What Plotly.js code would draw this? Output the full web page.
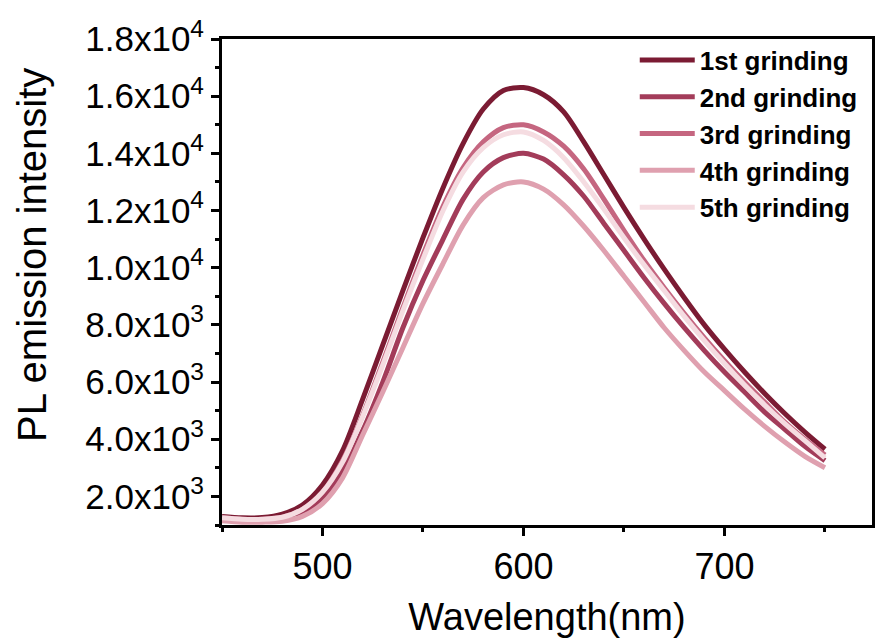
<!DOCTYPE html>
<html>
<head>
<meta charset="utf-8">
<script src="https://cdn.plot.ly/plotly-3.0.1.min.js"></script>
<style>html,body{margin:0;padding:0;background:#fff;}#chart{width:877px;height:639px;}</style>
</head>
<body>
<div id="chart"></div>
<script>
const wavelength = [450,460,470,480,490,500,510,520,530,540,550,560,570,580,590,600,610,620,630,640,650,660,670,680,690,700,710,720,730,740,750];

const grind1 = [1300,1250,1260,1380,1700,2400,3600,5400,7300,9200,11050,12800,14350,15550,16200,16300,16050,15450,14400,13250,12100,11000,9950,8950,8000,7150,6350,5600,4900,4250,3650];
const grind2 = [1200,1150,1150,1220,1450,1950,2900,4300,6000,7900,9550,11000,12400,13350,13850,14000,13800,13250,12500,11550,10600,9650,8750,7900,7100,6350,5650,4950,4350,3750,3250];
const grind3 = [1250,1200,1200,1270,1550,2150,3250,4850,6700,8600,10450,12150,13500,14400,14900,15000,14750,14250,13450,12400,11300,10250,9300,8400,7550,6750,6000,5300,4600,4000,3450];
const grind4 = [1150,1100,1100,1130,1300,1750,2650,4150,5650,7200,8750,10150,11500,12450,12900,13000,12750,12200,11450,10600,9700,8800,7900,7100,6350,5700,5050,4450,3900,3400,3000];
const grind5 = [1250,1200,1200,1270,1550,2150,3200,4800,6600,8500,10300,12000,13350,14200,14650,14750,14450,13850,13000,12050,11050,10100,9200,8300,7450,6650,5900,5200,4550,3950,3350];

const seriesNames = ['1st grinding','2nd grinding','3rd grinding','4th grinding','5th grinding'];
const seriesValues = [grind1, grind2, grind3, grind4, grind5];
const seriesColors = ['#7B1B33','#A33C5A','#C56680','#DFA0AF','#F5DCE1'];

const yTickVals = [2000,4000,6000,8000,10000,12000,14000,16000,18000];
const yTickText = ['2.0x10<sup>3</sup>','4.0x10<sup>3</sup>','6.0x10<sup>3</sup>','8.0x10<sup>3</sup>','1.0x10<sup>4</sup>','1.2x10<sup>4</sup>','1.4x10<sup>4</sup>','1.6x10<sup>4</sup>','1.8x10<sup>4</sup>'];
const xTickVals = [500,600,700];
const xTickText = ['500','600','700'];
const yTitle = 'PL emission intensity';
const xTitle = 'Wavelength(nm)';

const traces = seriesNames.map((n, i) => ({
  x: wavelength,
  y: seriesValues[i],
  name: n,
  type: 'scatter',
  mode: 'lines',
  line: {color: seriesColors[i], width: 5, shape: 'spline', smoothing: 0.8}
}));

const FONT = 'Liberation Sans, Arial, Helvetica, sans-serif';

const layout = {
  width: 877, height: 639,
  margin: {l: 222, r: 5, t: 39, b: 114},
  paper_bgcolor: '#fff', plot_bgcolor: '#fff',
  showlegend: true,
  legend: {
    x: 0.635, y: 1.005, xanchor: 'left', yanchor: 'top',
    bgcolor: 'rgba(0,0,0,0)', borderwidth: 0,
    font: {family: FONT, size: 26, color: '#000', weight: 'bold'},
    itemwidth: 55, tracegroupgap: 0
  },
  xaxis: {
    range: [450, 773.4],
    showgrid: false, zeroline: false,
    showline: true, linecolor: '#000', linewidth: 3, mirror: true,
    ticks: 'outside', ticklen: 8, tickwidth: 3, tickcolor: '#000',
    tickvals: xTickVals, ticktext: xTickText,
    tickfont: {family: FONT, size: 36, color: '#000'},
    minor: {tickvals: [450,550,650,750], ticks: 'outside', ticklen: 4, tickwidth: 3, tickcolor: '#000'},
    title: {text: xTitle, font: {family: FONT, size: 38, color: '#000'}, standoff: 18},
    automargin: false
  },
  yaxis: {
    range: [1000, 18000],
    showgrid: false, zeroline: false,
    showline: true, linecolor: '#000', linewidth: 3, mirror: true,
    ticks: 'outside', ticklen: 8, tickwidth: 3, tickcolor: '#000',
    tickvals: yTickVals, ticktext: yTickText,
    tickfont: {family: FONT, size: 35, color: '#000'},
    minor: {tickvals: [1000,3000,5000,7000,9000,11000,13000,15000,17000], ticks: 'outside', ticklen: 4, tickwidth: 3, tickcolor: '#000'},
    automargin: false
  },
  annotations: [{
    text: yTitle, textangle: -90,
    xref: 'paper', yref: 'paper', x: -0.292, y: 0.556,
    xanchor: 'center', yanchor: 'middle', showarrow: false,
    font: {family: FONT, size: 40, color: '#000'}
  }]
};

Plotly.newPlot('chart', traces, layout, {staticPlot: true, displayModeBar: false});
</script>
</body>
</html>
